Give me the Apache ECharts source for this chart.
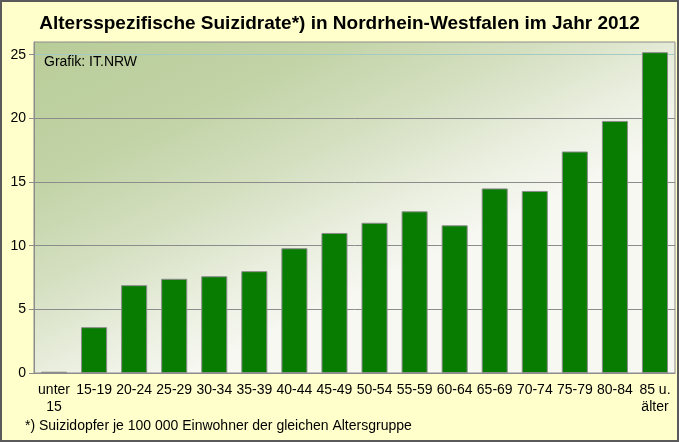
<!DOCTYPE html>
<html>
<head>
<meta charset="utf-8">
<script src="https://cdn.jsdelivr.net/npm/echarts@6/dist/echarts.min.js"></script>
<style>
html,body{margin:0;padding:0;background:#FFFFCC;}
#chart{width:679px;height:442px;}
</style>
</head>
<body>
<div id="chart"></div>
<script>
var categories = ['unter\n15','15-19','20-24','25-29','30-34','35-39','40-44','45-49','50-54','55-59','60-64','65-69','70-74','75-79','80-84','85 u.\nälter'];
var rates = [0.1, 3.6, 6.9, 7.4, 7.6, 8.0, 9.8, 11.0, 11.8, 12.7, 11.6, 14.5, 14.3, 17.4, 19.8, 25.2];
var yTicks = [0, 5, 10, 15, 20, 25];
var titleText = 'Altersspezifische Suizidrate*) in Nordrhein-Westfalen im Jahr 2012';
var sourceText = 'Grafik: IT.NRW';
var footnoteText = '*) Suizidopfer je 100 000 Einwohner der gleichen Altersgruppe';

var FONT = '"Liberation Sans", Arial, sans-serif';
var chart = echarts.init(document.getElementById('chart'), null, {renderer: 'canvas'});
chart.setOption({
  backgroundColor: '#FFFFCC',
  animation: false,
  title: {
    text: titleText,
    left: 'center',
    top: 9,
    textStyle: {fontFamily: FONT, fontSize: 19, fontWeight: 'bold', color: '#000'}
  },
  grid: {
    left: 34, right: 4, top: 42, bottom: 69,
    show: true,
    borderColor: '#8C8C8C',
    borderWidth: 1,
    backgroundColor: {
      type: 'linear', x: 0, y: 0, x2: 0.25, y2: 1,
      colorStops: [
        {offset: 0, color: '#B8CC98'},
        {offset: 0.35, color: '#C2D3A6'},
        {offset: 0.6, color: '#D4DFC0'},
        {offset: 0.85, color: '#ECF0E2'},
        {offset: 1, color: '#F7F8F2'}
      ]
    }
  },
  xAxis: {
    type: 'category',
    data: categories,
    axisLine: {show: true, lineStyle: {color: '#8C8C8C', width: 1}},
    axisTick: {show: false},
    axisLabel: {
      interval: 0, margin: 9, color: '#000',
      fontFamily: FONT, fontSize: 14, lineHeight: 17
    },
    splitLine: {show: false}
  },
  yAxis: {
    type: 'value',
    min: 0, max: 26, interval: 5,
    axisLine: {show: true, lineStyle: {color: '#8C8C8C', width: 1}},
    axisTick: {show: true, length: 5, inside: false, lineStyle: {color: '#8C8C8C'}, customValues: yTicks},
    axisLabel: {color: '#000', fontFamily: FONT, fontSize: 14, margin: 8, customValues: yTicks},
    splitLine: {show: true, lineStyle: {color: ['#8C8C8C','#8C8C8C','#8C8C8C','#8C8C8C','#8C8C8C','#A3CBC3','#8C8C8C'], width: 1}}
  },
  series: [{
    type: 'bar',
    data: rates,
    barCategoryGap: '35%',
    itemStyle: {color: '#077C00', borderColor: '#8C8C8C', borderWidth: 1}
  }],
  graphic: [
    {type: 'text', left: 44, top: 55, style: {text: sourceText, font: '14px ' + FONT, fill: '#000'}},
    {type: 'text', left: 25, top: 419, style: {text: footnoteText, font: '14px ' + FONT, fill: '#000'}},
    {type: 'rect', shape: {x: 1, y: 1, width: 677, height: 440}, style: {fill: 'none', stroke: '#5A5A5A', lineWidth: 2}, silent: true, z: 100}
  ]
});
</script>
</body>
</html>
